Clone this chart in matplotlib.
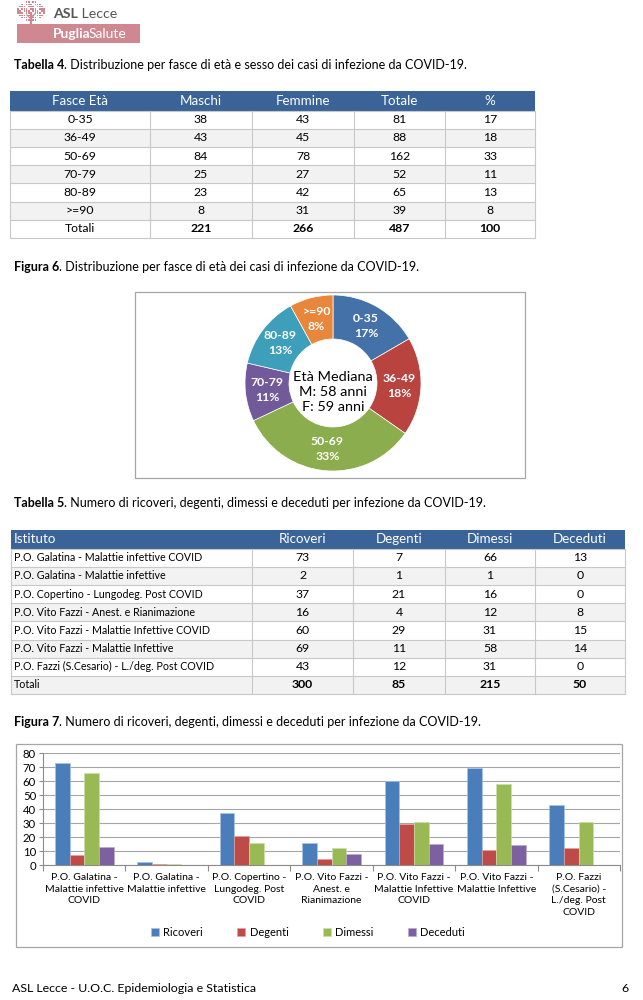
import matplotlib
matplotlib.use('Agg')
import matplotlib.pyplot as plt
from matplotlib.patches import Rectangle
import numpy as np

plt.rcParams['font.family'] = ['Lato', 'DejaVu Sans']

W, H = 643, 1000

# ---------------- data ----------------
t4_header = ['Fasce Età', 'Maschi', 'Femmine', 'Totale', '%']
fasce = ['0-35', '36-49', '50-69', '70-79', '80-89', '>=90']
maschi = [38, 43, 84, 25, 23, 8]
femmine = [43, 45, 78, 27, 42, 31]
totale = [81, 88, 162, 52, 65, 39]
percent = [17, 18, 33, 11, 13, 8]
tot4 = [221, 266, 487, 100]

t5_header = ['Istituto', 'Ricoveri', 'Degenti', 'Dimessi', 'Deceduti']
istituti = ['P.O. Galatina - Malattie infettive COVID',
            'P.O. Galatina - Malattie infettive',
            'P.O. Copertino - Lungodeg. Post COVID',
            'P.O. Vito Fazzi - Anest. e Rianimazione',
            'P.O. Vito Fazzi - Malattie Infettive COVID',
            'P.O. Vito Fazzi - Malattie Infettive',
            'P.O. Fazzi (S.Cesario) - L./deg. Post COVID']
ricoveri = [73, 2, 37, 16, 60, 69, 43]
degenti = [7, 1, 21, 4, 29, 11, 12]
dimessi = [66, 1, 16, 12, 31, 58, 31]
deceduti = [13, 0, 0, 8, 15, 14, 0]
tot5 = [300, 85, 215, 50]

bar_labels = ['P.O. Galatina -\nMalattie infettive\nCOVID',
              'P.O. Galatina -\nMalattie infettive',
              'P.O. Copertino -\nLungodeg. Post\nCOVID',
              'P.O. Vito Fazzi -\nAnest. e\nRianimazione',
              'P.O. Vito Fazzi -\nMalattie Infettive\nCOVID',
              'P.O. Vito Fazzi -\nMalattie Infettive',
              'P.O. Fazzi\n(S.Cesario) -\nL./deg. Post\nCOVID']
series_names = ['Ricoveri', 'Degenti', 'Dimessi', 'Deceduti']
mediana_text = 'Età Mediana\nM: 58 anni\nF: 59 anni'

# ---------------- styles ----------------
HEAD = '#3A6398'
GRAY = '#F2F2F2'
GRID = '#C8C8C8'
PINK = '#CF8790'
pie_colors = ['#4571A9', '#B8433F', '#8CAD4D', '#71599A', '#3E9FBA', '#E8873B']
bar_colors = ['#4A7EBB', '#BE4B48', '#98B954', '#7D60A0']
bar_edges = ['#A9C3E4', '#E2A09E', '#CBE0A6', '#BBA9D3']

fig = plt.figure(figsize=(W / 100, H / 100), dpi=100)
fig.patch.set_facecolor('white')
page = fig.add_axes([0, 0, 1, 1])
page.set_xlim(0, W)
page.set_ylim(H, 0)
page.axis('off')


def rect(x0, y0, x1, y1):
    return [x0 / W, 1 - y1 / H, (x1 - x0) / W, (y1 - y0) / H]


def two_part(x, y, bold, rest, fs, color='black', b_weight='bold', shift=0.0):
    t1 = page.text(x, y, bold, fontsize=fs, fontweight=b_weight, color=color,
                   ha='left', va='bottom')
    page.annotate(rest, xy=(1, 0), xycoords=t1, xytext=(shift, 0),
                  textcoords='offset points', fontsize=fs, color=color,
                  ha='left', va='bottom')


# ---------------- logo ----------------
for i in range(-6, 7):
    for j in range(-4, 5):
        cx, cy = 31 + i * 2.2, 11 + j * 2.2
        if (i / 6.3) ** 2 + (j / 4.4) ** 2 <= 1 and (i * 3 + j) % 4 != 0:
            page.add_patch(Rectangle((cx - 0.8, cy - 0.8), 1.6, 1.6, fc=PINK, ec='none'))
page.plot([31, 31], [14, 25], color=PINK, lw=1.6, solid_capstyle='butt')
page.plot([31, 27], [19, 15], color=PINK, lw=0.9)
page.plot([31, 35], [18, 14], color=PINK, lw=0.9)
page.add_patch(Rectangle((17, 24), 123, 19, fc=PINK, ec='none'))
two_part(53, 20, 'ASL', ' Lecce', 10.2, color='#555555')
two_part(53, 39.5, 'Puglia', 'Salute', 10.0, color='white', shift=-1.8)

# ---------------- captions ----------------
CAP_FS = 9.0
two_part(14, 71, 'Tabella 4', '. Distribuzione per fasce di età e sesso dei casi di infezione da COVID-19.', CAP_FS)
two_part(14, 273, 'Figura 6', '. Distribuzione per fasce di età dei casi di infezione da COVID-19.', CAP_FS)
two_part(14, 509, 'Tabella 5', '. Numero di ricoveri, degenti, dimessi e deceduti per infezione da COVID-19.', CAP_FS)
two_part(14, 728, 'Figura 7', '. Numero di ricoveri, degenti, dimessi e deceduti per infezione da COVID-19.', CAP_FS)


# ---------------- tables ----------------
def draw_table(xb, y0, hh, rh, header, rows, first_left, fs_first, fs_num, fs_head):
    x0, x1 = xb[0], xb[-1]
    page.add_patch(Rectangle((x0, y0), x1 - x0, hh, fc=HEAD, ec='none'))
    for j, h in enumerate(header):
        if j == 0 and first_left:
            page.text(xb[0] + 3, y0 + hh / 2, h, color='white', fontsize=fs_head,
                      ha='left', va='center')
        else:
            page.text((xb[j] + xb[j + 1]) / 2, y0 + hh / 2, h, color='white',
                      fontsize=fs_head, ha='center', va='center')
    n = len(rows)
    for i, row in enumerate(rows):
        top = y0 + hh + i * rh
        fc = 'white' if i % 2 == 0 else GRAY
        page.add_patch(Rectangle((x0, top), x1 - x0, rh, fc=fc, ec='none'))
        last = (i == n - 1)
        for j, v in enumerate(row):
            yc = top + rh / 2
            if j == 0:
                if first_left:
                    page.text(xb[0] + 3, yc, v, fontsize=fs_first, ha='left', va='center')
                else:
                    page.text((xb[0] + xb[1]) / 2, yc, v, fontsize=fs_num, ha='center', va='center')
            else:
                page.text((xb[j] + xb[j + 1]) / 2, yc, str(v), fontsize=fs_num,
                          ha='center', va='center',
                          fontweight='bold' if last else 'normal')
    yb = y0 + hh + n * rh
    for i in range(n + 1):
        yy = y0 + hh + i * rh
        page.plot([x0, x1], [yy, yy], color=GRID, lw=0.8)
    for xx in xb:
        page.plot([xx, xx], [y0 + hh, yb], color=GRID, lw=0.8)


rows4 = [[fasce[i], maschi[i], femmine[i], totale[i], percent[i]] for i in range(len(fasce))]
rows4.append(['Totali'] + tot4)
draw_table([10, 150, 252, 354, 445, 535], 91, 19.5, 18.2, t4_header, rows4,
           False, 8.8, 8.8, 9.6)

rows5 = [[istituti[i], ricoveri[i], degenti[i], dimessi[i], deceduti[i]] for i in range(len(istituti))]
rows5.append(['Totali'] + tot5)
draw_table([11, 252, 353, 445, 535, 625], 530, 18.5, 18.2, t5_header, rows5,
           True, 7.7, 8.8, 9.6)

# ---------------- donut ----------------
page.add_patch(Rectangle((135, 292), 390, 186, fc='none', ec='#A6A6A6', lw=0.9))
R = 88
pax = fig.add_axes(rect(333 - R, 383 - R, 333 + R, 383 + R))
wedges, texts = pax.pie(totale, radius=1, startangle=90, counterclock=False,
                        colors=pie_colors,
                        wedgeprops=dict(width=0.5, edgecolor='white', linewidth=0.5),
                        labels=[f'{f}\n{p}%' for f, p in zip(fasce, percent)],
                        labeldistance=0.75,
                        textprops=dict(color='white', fontweight='bold', fontsize=8.8,
                                       linespacing=1.4))
for t in texts:
    t.set_ha('center')
    t.set_va('center')
pax.text(0, -0.1, mediana_text, ha='center', va='center', fontsize=10.4, linespacing=1.3)
pax.set_xlim(-1, 1)
pax.set_ylim(-1, 1)
pax.axis('off')

# ---------------- bar chart ----------------
page.add_patch(Rectangle((16, 744), 606, 203, fc='none', ec='#A6A6A6', lw=0.9))
bx = fig.add_axes(rect(43, 753, 620, 865))
bx.set_facecolor('none')
x = np.arange(len(bar_labels))
bw = 0.178
series = [ricoveri, degenti, dimessi, deceduti]
handles = []
for k, (vals, c, ec) in enumerate(zip(series, bar_colors, bar_edges)):
    h = bx.bar(x + (k - 1.5) * bw, vals, width=bw, color=c, edgecolor=ec,
               linewidth=0.5, label=series_names[k], zorder=3)
    handles.append(h)
bx.set_xlim(-0.5, len(bar_labels) - 0.5)
bx.set_ylim(0, 80)
bx.set_yticks(np.arange(0, 81, 10))
bx.yaxis.grid(True, color='#A6A6A6', lw=0.8, zorder=0)
bx.set_axisbelow(True)
for s in ['top', 'right']:
    bx.spines[s].set_visible(False)
for s in ['left', 'bottom']:
    bx.spines[s].set_color('#8C8C8C')
    bx.spines[s].set_linewidth(0.8)
bx.set_xticks(x)
bx.set_xticklabels(bar_labels, fontsize=7.5, linespacing=1.35, va='top')
bx.set_xticks(np.arange(-0.5, len(bar_labels)), minor=True)
bx.tick_params(axis='x', which='major', length=0, pad=6)
bx.tick_params(axis='x', which='minor', length=4, color='#8C8C8C', width=0.8)
bx.tick_params(axis='y', length=3, color='#8C8C8C', width=0.8, labelsize=8.2, pad=2)

leg = fig.legend(handles=handles, labels=series_names, loc='center',
                 bbox_to_anchor=(308 / W, 1 - 932 / H), ncol=4, frameon=False,
                 fontsize=8.0, handlelength=0.7, handleheight=0.7,
                 handletextpad=0.4, columnspacing=3.1)

# ---------------- footer ----------------
page.text(12, 988, 'ASL Lecce - U.O.C. Epidemiologia e Statistica', fontsize=8.9,
          ha='left', va='center')
page.text(628, 988, '6', fontsize=8.9, ha='right', va='center')

fig.savefig('out.png', dpi=100, facecolor='white')
